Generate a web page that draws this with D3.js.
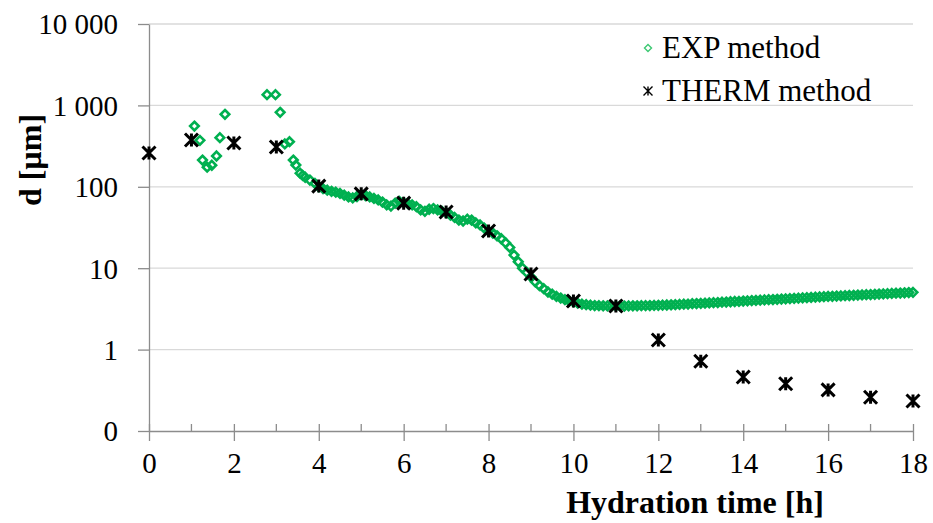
<!DOCTYPE html>
<html lang="en">
<head>
    <meta charset="UTF-8">
    <title>Hydration time vs d</title>
    <script src="https://d3js.org/d3.v7.min.js"></script>
    <style>
        body { margin: 0; background: #fff; }
        svg text { font-family: "Liberation Serif", "Times New Roman", serif; fill: #000; }
    </style>
</head>
<body>
    <div id="chart"></div>

    <script>
        // EXP method: [hydration time h, d µm]
        const expPoints = [
            [1.07, 558], [1.2, 372], [1.26, 213], [1.37, 174], [1.48, 184], [1.59, 239], [1.67, 401], [1.79, 778],
            [2.78, 1355], [2.98, 1355], [3.09, 822], [3.2, 336], [3.31, 358], [3.4, 213], [3.46, 185],
            [3.56, 147], [3.62, 138], [3.68, 131], [3.79, 121], [3.91, 110], [4.0, 100],
            [4.1, 95], [4.2, 91], [4.3, 88], [4.4, 86], [4.5, 83], [4.6, 79], [4.7, 75], [4.8, 73], [4.9, 76],
            [5.0, 80], [5.1, 78], [5.2, 75], [5.3, 72], [5.4, 69], [5.5, 65], [5.6, 60], [5.7, 58], [5.8, 63], [5.9, 66],
            [6.0, 64], [6.1, 62], [6.2, 60], [6.3, 57], [6.4, 52], [6.5, 50], [6.6, 53], [6.7, 54], [6.8, 52], [6.9, 50],
            [7.0, 48], [7.1, 45], [7.2, 42], [7.3, 39], [7.4, 38], [7.5, 40], [7.6, 39], [7.7, 36], [7.8, 34], [7.9, 31],
            [8.0, 28.5], [8.1, 27], [8.2, 25], [8.3, 23], [8.4, 20.5], [8.5, 18], [8.6, 14.5], [8.7, 12], [8.8, 10], [8.9, 8.9],
            [9.0, 7.8], [9.1, 6.8], [9.2, 6.1], [9.3, 5.6], [9.4, 5.1], [9.5, 4.8], [9.6, 4.5], [9.7, 4.3], [9.8, 4.1], [9.9, 3.95],
            [10.0, 3.85], [10.1, 3.72], [10.2, 3.62], [10.3, 3.56], [10.4, 3.51], [10.5, 3.48], [10.6, 3.46], [10.7, 3.45], [10.8, 3.44], [10.9, 3.44],
            [11.0, 3.43], [11.1, 3.44], [11.2, 3.43], [11.3, 3.44], [11.4, 3.45], [11.5, 3.45], [11.6, 3.46], [11.7, 3.47], [11.8, 3.48], [11.9, 3.49],
            [12.0, 3.5], [12.1, 3.51], [12.2, 3.53], [12.3, 3.55], [12.4, 3.56], [12.5, 3.59], [12.6, 3.61], [12.7, 3.62], [12.8, 3.66], [12.9, 3.68],
            [13.0, 3.7], [13.1, 3.72], [13.2, 3.74], [13.3, 3.77], [13.4, 3.78], [13.5, 3.82], [13.6, 3.84], [13.7, 3.87], [13.8, 3.9], [13.9, 3.91],
            [14.0, 3.95], [14.1, 3.97], [14.2, 4.0], [14.3, 4.02], [14.4, 4.05], [14.5, 4.08], [14.6, 4.1], [14.7, 4.12], [14.8, 4.15], [14.9, 4.18],
            [15.0, 4.2], [15.1, 4.23], [15.2, 4.26], [15.3, 4.28], [15.4, 4.32], [15.5, 4.35], [15.6, 4.37], [15.7, 4.41], [15.8, 4.44], [15.9, 4.47],
            [16.0, 4.5], [16.1, 4.52], [16.2, 4.55], [16.3, 4.57], [16.4, 4.6], [16.5, 4.62], [16.6, 4.65], [16.7, 4.68], [16.8, 4.7], [16.9, 4.73],
            [17.0, 4.75], [17.1, 4.78], [17.2, 4.81], [17.3, 4.83], [17.4, 4.87], [17.5, 4.9], [17.6, 4.93], [17.7, 4.95], [17.8, 4.99], [17.9, 5.02],
            [18.0, 5.05]
        ];

        // THERM method
        const thermHours = [0, 1, 2, 3, 4, 5, 6, 7, 8, 9, 10, 11, 12, 13, 14, 15, 16, 17, 18];
        const thermD = [260, 376, 345, 308, 102, 82, 63, 49, 28.6, 8.5, 3.95, 3.43, 1.31, 0.72, 0.46, 0.38, 0.32, 0.26, 0.234];

        const xMajorTicks = [0, 2, 4, 6, 8, 10, 12, 14, 16, 18];
        const xMinorTicks = [1, 3, 5, 7, 9, 11, 13, 15, 17];
        const yTicks = [0.1, 1, 10, 100, 1000, 10000];
        const yTickLabels = ["0", "1", "10", "100", "1 000", "10 000"];

        const width = 933;
        const height = 523;
        const margin = {top: 24, right: 20, bottom: 92, left: 149};
        const serif = '"Liberation Serif", "Times New Roman", serif';

        const svg = d3.select("#chart")
                      .append("svg")
                      .attr("width", width)
                      .attr("height", height);

        const x = d3.scaleLinear()
                    .domain([0, 18])
                    .range([margin.left, width - margin.right]);

        const y = d3.scaleLog()
                    .domain([0.1, 10000])
                    .range([height - margin.bottom, margin.top]);

        const axisColor = "#8c8c8c";

        // gridlines
        svg.append("g")
           .selectAll("line")
           .data(yTicks.slice(1))
           .enter()
           .append("line")
           .attr("x1", x(0))
           .attr("x2", x(18))
           .attr("y1", d => y(d))
           .attr("y2", d => y(d))
           .style("stroke", "#d9d9d9")
           .style("stroke-width", 1.3);

        // y axis
        const yAxis = svg.append("g")
           .attr("transform", `translate(${x(0)},0)`)
           .attr("font-family", serif)
           .call(d3.axisLeft(y)
                   .tickValues(yTicks)
                   .tickFormat((d, i) => yTickLabels[i])
                   .tickSize(11)
                   .tickPadding(20)
                   .tickSizeOuter(0));
        yAxis.attr("font-family", serif);
        yAxis.select(".domain").style("stroke", axisColor).style("stroke-width", 1.3);
        yAxis.selectAll(".tick line").style("stroke", axisColor).style("stroke-width", 1.3);
        yAxis.selectAll("text")
             .style("font-family", serif)
             .style("font-size", "29px")
             .attr("dy", "0.34em");

        // x axis
        const xAxis = svg.append("g")
           .attr("transform", `translate(0,${y(0.1)})`)
           .call(d3.axisBottom(x)
                   .tickValues(xMajorTicks)
                   .tickSize(10)
                   .tickPadding(11)
                   .tickSizeOuter(0));
        xAxis.attr("font-family", serif);
        xAxis.select(".domain").style("stroke", axisColor).style("stroke-width", 1.3);
        xAxis.selectAll(".tick line")
             .attr("y1", -7)
             .style("stroke", axisColor)
             .style("stroke-width", 1.3);
        xAxis.selectAll("text")
             .style("font-family", serif)
             .style("font-size", "29px");

        xAxis.selectAll(".minor")
             .data(xMinorTicks)
             .enter()
             .append("line")
             .attr("class", "minor")
             .attr("x1", d => x(d))
             .attr("x2", d => x(d))
             .attr("y1", -7)
             .attr("y2", 0)
             .style("stroke", axisColor)
             .style("stroke-width", 1.3);

        // axis titles
        svg.append("text")
           .attr("x", 695)
           .attr("y", 513)
           .attr("text-anchor", "middle")
           .style("font-size", "32px")
           .style("font-weight", "bold")
           .text("Hydration time [h]");

        svg.append("text")
           .attr("transform", "translate(41,160) rotate(-90)")
           .attr("text-anchor", "middle")
           .style("font-size", "32px")
           .style("font-weight", "bold")
           .text("d [µm]");

        // marker shapes
        const diamond = s => `M0,${-s}L${s},0L0,${s}L${-s},0Z`;
        const star = s => `M${-s},${-s}L${s},${s}M${-s},${s}L${s},${-s}M0,${-s}L0,${s}`;

        // EXP points
        svg.append("g")
           .selectAll("path")
           .data(expPoints)
           .enter()
           .append("path")
           .attr("d", diamond(4.3))
           .attr("transform", d => `translate(${x(d[0])},${y(d[1])})`)
           .style("fill", "none")
           .style("stroke", "#00b050")
           .style("stroke-width", 2.6);

        // THERM points
        svg.append("g")
           .selectAll("path")
           .data(thermHours)
           .enter()
           .append("path")
           .attr("d", star(6.5))
           .attr("transform", (d, i) => `translate(${x(d)},${y(thermD[i])})`)
           .style("fill", "none")
           .style("stroke", "#000")
           .style("stroke-width", 3);

        // legend
        const legend = svg.append("g");
        legend.append("path")
              .attr("d", diamond(3.5))
              .attr("transform", "translate(648,48)")
              .style("fill", "none")
              .style("stroke", "#3cc872")
              .style("stroke-width", 1.4);
        legend.append("text")
              .attr("x", 662)
              .attr("y", 58)
              .style("font-size", "31px")
              .text("EXP method");
        legend.append("path")
              .attr("d", star(4.5))
              .attr("transform", "translate(648,91)")
              .style("fill", "none")
              .style("stroke", "#000")
              .style("stroke-width", 1.4);
        legend.append("text")
              .attr("x", 662)
              .attr("y", 101)
              .style("font-size", "31px")
              .text("THERM method");
    </script>
</body>
</html>
